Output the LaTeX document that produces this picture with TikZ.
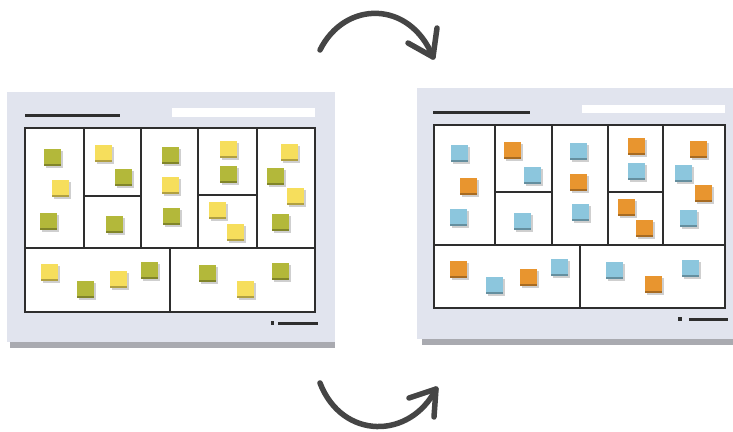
\documentclass[tikz,border=0pt]{standalone}
\definecolor{boardbg}{HTML}{E1E4EE}
\definecolor{boardedge}{HTML}{A9AAB0}
\definecolor{frameline}{HTML}{2E2E2E}
\definecolor{noteyellow}{HTML}{F6DE5C}
\definecolor{notegreen}{HTML}{B3B83A}
\definecolor{noteblue}{HTML}{8CC6DD}
\definecolor{noteorange}{HTML}{E8952F}
\definecolor{arrowgray}{HTML}{454545}
\tikzset{
  framebox/.style={draw=frameline, line width=2.6pt, fill=white},
  divider/.style={draw=frameline, line width=2.6pt},
  titlebar/.style={draw=frameline, line width=3pt},
  swoosh/.style={draw=arrowgray, line width=5.5pt, line cap=round, line join=round},
}
% a sticky note centred at (#1,#2) in colour #3, with its drop shadow
\newcommand\postit[3]{%
  \fill[gray!38] (#1-6,#2-6) rectangle (#1+11,#2+11);
  \fill[#3] (#1-8.5,#2-8.5) rectangle (#1+8.5,#2+8.5);
  \fill[#3!72!black] (#1-8.5,#2+6.5) rectangle (#1+8.5,#2+8.5);
}
\begin{document}
\begin{tikzpicture}[x=1pt,y=-1pt]
\useasboundingbox (0,0) rectangle (733,431);

% ---------- left board ----------
\fill[boardedge] (10,340) rectangle (335,348);
\fill[boardbg] (7,92) rectangle (335,342);
\draw[titlebar] (25,115) -- (120,115);
\fill[white] (172,108) rectangle (315,117);
\draw[framebox] (25,128) rectangle (315,312);
\draw[divider] (25,248) -- (315,248);
\foreach \cx in {84,141,198,257} \draw[divider] (\cx,128) -- (\cx,248);
\draw[divider] (84,196) -- (141,196);
\draw[divider] (198,195) -- (257,195);
\draw[divider] (170,248) -- (170,312);
\fill[frameline] (271,321) rectangle (274,325);
\fill[frameline] (278,321.5) rectangle (318,324.5);

\postit{52}{157}{notegreen}
\postit{60}{188}{noteyellow}
\postit{48}{221}{notegreen}
\postit{103}{153}{noteyellow}
\postit{123}{177}{notegreen}
\postit{114}{224}{notegreen}
\postit{170}{155}{notegreen}
\postit{170}{185}{noteyellow}
\postit{171}{216}{notegreen}
\postit{228}{149}{noteyellow}
\postit{228}{174}{notegreen}
\postit{217}{210}{noteyellow}
\postit{235}{232}{noteyellow}
\postit{289}{152}{noteyellow}
\postit{275}{176}{notegreen}
\postit{295}{196}{noteyellow}
\postit{280}{222}{notegreen}
\postit{49}{272}{noteyellow}
\postit{85}{289}{notegreen}
\postit{118}{279}{noteyellow}
\postit{149}{270}{notegreen}
\postit{207}{273}{notegreen}
\postit{245}{289}{noteyellow}
\postit{280}{271}{notegreen}

% ---------- right board ----------
\fill[boardedge] (422,337) rectangle (733,345);
\fill[boardbg] (417,88) rectangle (733,339);
\draw[titlebar] (433,112) -- (530,112);
\fill[white] (582,105) rectangle (725,113);
\draw[framebox] (434,125) rectangle (725,308);
\draw[divider] (434,245) -- (725,245);
\foreach \cx in {495,552,608,663} \draw[divider] (\cx,125) -- (\cx,245);
\draw[divider] (495,192) -- (552,192);
\draw[divider] (608,192) -- (663,192);
\draw[divider] (580,245) -- (580,308);
\fill[frameline] (678,317) rectangle (682,321);
\fill[frameline] (689,317.5) rectangle (728,320.5);

\postit{459}{153}{noteblue}
\postit{468}{186}{noteorange}
\postit{458}{217}{noteblue}
\postit{512}{150}{noteorange}
\postit{532}{175}{noteblue}
\postit{522}{221}{noteblue}
\postit{578}{151}{noteblue}
\postit{578}{182}{noteorange}
\postit{580}{212}{noteblue}
\postit{636}{146}{noteorange}
\postit{636}{171}{noteblue}
\postit{626}{207}{noteorange}
\postit{644}{228}{noteorange}
\postit{698}{149}{noteorange}
\postit{683}{173}{noteblue}
\postit{703}{193}{noteorange}
\postit{688}{218}{noteblue}
\postit{458}{269}{noteorange}
\postit{494}{285}{noteblue}
\postit{528}{277}{noteorange}
\postit{559}{267}{noteblue}
\postit{614}{270}{noteblue}
\postit{653}{284}{noteorange}
\postit{690}{268}{noteblue}

% ---------- curved arrows ----------
\coordinate (topstart) at (320,50);
\coordinate (toptip) at (433,57);
\draw[swoosh] (topstart) .. controls (345,0) and (410,0) .. (toptip);
\draw[swoosh] (408,43) -- (toptip) -- (437,28);

\coordinate (botstart) at (320,383);
\coordinate (bottip) at (436,389);
\draw[swoosh] (botstart) .. controls (342,440) and (410,440) .. (bottip);
\draw[swoosh] (409,398) -- (bottip) -- (434,417);
\end{tikzpicture}
\end{document}
